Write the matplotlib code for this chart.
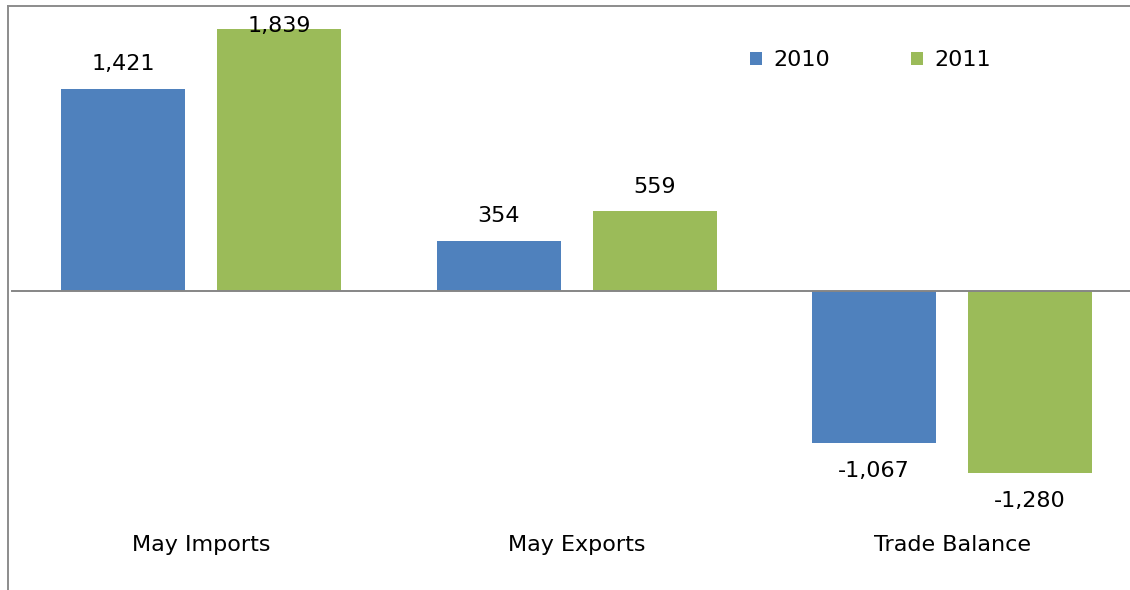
import matplotlib
matplotlib.use("Agg")
import matplotlib.pyplot as plt
from matplotlib.patches import Patch
from matplotlib.lines import Line2D

categories = ["May Imports", "May Exports", "Trade Balance"]
years = ["2010", "2011"]
values_2010 = [1421, 354, -1067]
values_2011 = [1839, 559, -1280]
colors = ["#4F81BD", "#9BBB59"]

W, H = 1130, 590
fig = plt.figure(figsize=(W / 100, H / 100), dpi=100)
ax = fig.add_axes([0, 0, 1, 1])

px_per_cat = 375.5
x0_px = 201.0
zero_px = 291.0
px_per_unit = 0.1425

ax.set_xlim(-x0_px / px_per_cat, (W - x0_px) / px_per_cat)
ax.set_ylim(-(H - zero_px) / px_per_unit, zero_px / px_per_unit)
ax.axis("off")

bar_w = 124 / px_per_cat
off = 78 / px_per_cat
xs = list(range(len(categories)))
fs = 16

label_cap = 1860
for vals, col, sgn in ((values_2010, colors[0], -1), (values_2011, colors[1], 1)):
    pos = [x + sgn * off for x in xs]
    ax.bar(pos, vals, width=bar_w, color=col, zorder=2)
    for p, v in zip(pos, vals):
        if v >= 0:
            y = min(v + 170, label_cap)
        else:
            y = v - 196
        ax.text(p, y, f"{v:,}", ha="center", va="center", fontsize=fs, color="#000000")

for x, c in zip(xs, categories):
    ax.text(x, -1782, c, ha="center", va="center", fontsize=fs, color="#000000")

# zero axis line
ax.axhline(0, xmin=12 / W, xmax=1, color="#868686", lw=1.4, zorder=3)

# chart frame (left and top)
fig.add_artist(Line2D([7.5 / W, 7.5 / W], [0, 1 - 5.5 / H], transform=fig.transFigure,
                      color="#8c8c8c", lw=1.4))
fig.add_artist(Line2D([7.5 / W, 1], [1 - 5.5 / H, 1 - 5.5 / H], transform=fig.transFigure,
                      color="#8c8c8c", lw=1.4))

handles = [Patch(facecolor=colors[0]), Patch(facecolor=colors[1])]
leg = fig.legend(handles, years, loc="center left",
                 bbox_to_anchor=(750 / W, 1 - 60 / H), ncol=2, frameon=False,
                 fontsize=fs, handlelength=0.54, handleheight=0.54,
                 handletextpad=0.5, columnspacing=3.65, borderaxespad=0, borderpad=0)

fig.savefig("out.png", dpi=100)
